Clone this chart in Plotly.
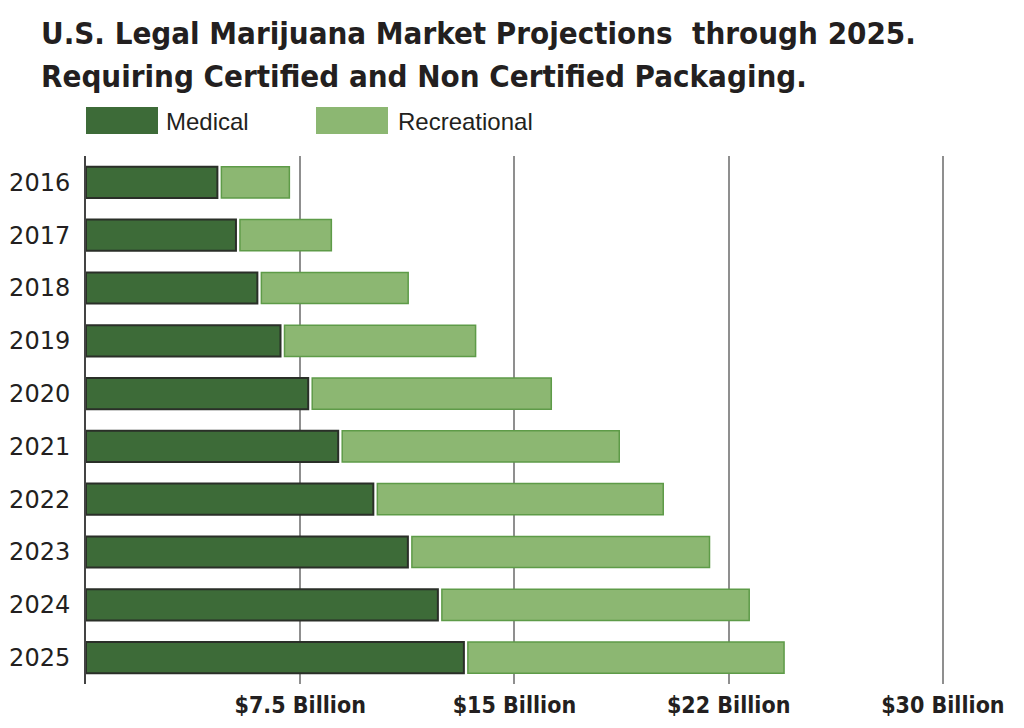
import plotly.graph_objects as go

years = ["2016", "2017", "2018", "2019", "2020", "2021", "2022", "2023", "2024", "2025"]
medical = [4.60, 5.25, 6.00, 6.81, 7.78, 8.83, 10.06, 11.27, 12.32, 13.23]
recreational = [2.52, 3.34, 5.28, 6.83, 8.51, 9.84, 10.15, 10.56, 10.90, 11.21]
tick_vals = [7.5, 15, 22.5, 30]
tick_text = ["$7.5 Billion", "$15 Billion", "$22 Billion", "$30 Billion"]
title_lines = ["U.S. Legal Marijuana Market Projections  through 2025.",
               "Requiring Certified and Non Certified Packaging."]
series_names = ["Medical", "Recreational"]

GAP = 0.14  # small visual gap between the two segments
MED_FILL, MED_LINE = "#3d6b38", "#2a2f28"
REC_FILL, REC_LINE = "#8cb772", "#5e9b48"
TEXT = "#231f20"
BOLD_FONT = "DejaVu Sans Condensed, sans-serif"

W, H = 1024, 728
L, R, T, B = 86, 64, 156, 44
PW, PH = W - L - R, H - T - B


def px2x(px):
    return (px - L) / PW


def py2y(py):
    return (H - B - py) / PH


fig = go.Figure()
fig.add_trace(go.Bar(
    y=years, x=medical, orientation="h", name=series_names[0],
    marker=dict(color=MED_FILL, line=dict(color=MED_LINE, width=2)),
    hoverinfo="skip", showlegend=False,
))
fig.add_trace(go.Bar(
    y=years, x=[r - GAP for r in recreational], base=[m + GAP for m in medical],
    orientation="h", name=series_names[1],
    marker=dict(color=REC_FILL, line=dict(color=REC_LINE, width=1.5)),
    hoverinfo="skip", showlegend=False,
))

annotations = []
for line, py in zip(title_lines, [33, 76]):
    annotations.append(dict(
        text=line, xref="paper", yref="paper",
        x=px2x(39), y=py2y(py), xanchor="left", yanchor="middle",
        showarrow=False, font=dict(family=BOLD_FONT, size=31, color=TEXT, weight="bold"),
    ))

shapes = []
legend_items = [(series_names[0], MED_FILL, 86, 165), (series_names[1], REC_FILL, 316, 397)]
for name, col, sx, tx in legend_items:
    shapes.append(dict(type="rect", xref="paper", yref="paper",
                       x0=px2x(sx), x1=px2x(sx + 72), y0=py2y(134), y1=py2y(107),
                       fillcolor=col, line=dict(width=0), layer="above"))
    annotations.append(dict(
        text=name, xref="paper", yref="paper", x=px2x(tx - 1), y=py2y(122),
        xanchor="left", yanchor="middle", showarrow=False,
        font=dict(family="Liberation Sans, Arial, sans-serif", size=24, color=TEXT),
    ))

fig.update_layout(
    width=W, height=H,
    margin=dict(l=L, r=R, t=T, b=B, pad=0, autoexpand=False),
    paper_bgcolor="white", plot_bgcolor="white",
    barmode="overlay", bargap=0.41,
    showlegend=False,
    annotations=annotations, shapes=shapes,
    xaxis=dict(
        range=[0, 30.6], tickvals=tick_vals, ticktext=tick_text,
        showgrid=True, gridcolor="#8f8f8f", gridwidth=1.6,
        zeroline=False, showline=False, ticks="", automargin=False,
        ticklabelstandoff=5,
        tickfont=dict(family=BOLD_FONT, size=23, color=TEXT, weight="bold"),
    ),
    yaxis=dict(
        type="category", autorange="reversed", automargin=False,
        showgrid=False, zeroline=False,
        showline=True, linecolor="#444444", linewidth=2,
        ticks="", ticklabelstandoff=9,
        tickfont=dict(family="DejaVu Sans, sans-serif", size=24, color=TEXT),
    ),
)

fig.write_html("out.html")
